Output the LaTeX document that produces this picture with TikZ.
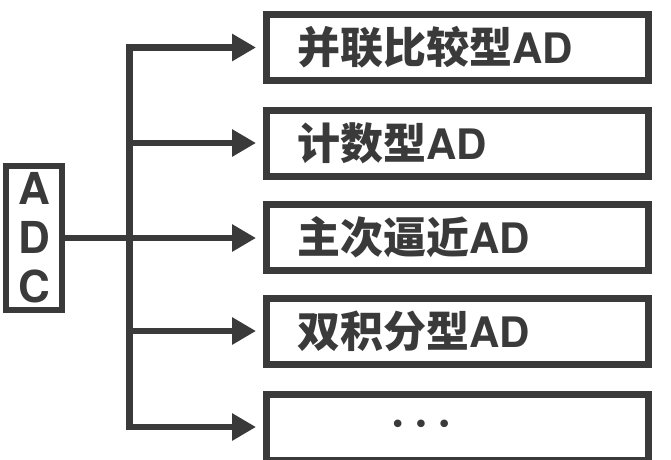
\documentclass[tikz,border=0pt]{standalone}
\usepackage{fontspec}
\usetikzlibrary{arrows.meta}
\newfontfamily\cjk{Noto Sans CJK SC}
\newfontfamily\latb{texgyreheros-bold.otf}
\newfontfamily\dejavu{DejaVu Sans}
\newcommand{\ad}{{\latb\fontsize{42pt}{42pt}\selectfont AD}}
\definecolor{ink}{HTML}{3A3A3A}
\tikzset{
  x=1pt, y=-1pt,
  item/.style={draw=ink, line width=7pt, rectangle, minimum width=382pt, minimum height=66pt,
    inner xsep=30.5pt, inner ysep=0pt, text width=321pt, align=left,
    text height=37.8pt, text depth=5.2pt, text=ink,
    font=\cjk\bfseries\fontsize{43pt}{43pt}\selectfont},
  adcbox/.style={draw=ink, line width=6pt, rectangle, minimum width=56pt, minimum height=144pt,
    inner sep=0pt, align=center, text=ink,
    font=\latb\fontsize{44pt}{49pt}\selectfont},
  conn/.style={draw=ink, line width=6.5pt, line join=miter},
  tip/.style={-{Triangle[length=24pt,width=26pt]}, shorten >=7pt},
}
\begin{document}
\begin{tikzpicture}
\useasboundingbox (0,0) rectangle (671,459);
\clip (0,0) rectangle (671,459);
\fill[white] (0,0) rectangle (671,459);
\node[item] (b1) at (457.5,47.5) {并联比较型\ad};
\node[item] (b2) at (457.5,143) {计数型\ad};
\node[item] (b3) at (457.5,237) {主次逼近\ad};
\node[item] (b4) at (457.5,331) {双积分型\ad};
\node[item] (b5) at (457.5,427) {};
\node[text=ink, inner sep=0pt, font=\dejavu\fontsize{26pt}{26pt}\selectfont] (dots) at (421,427) {•\hspace{8pt}•\hspace{8pt}•};
\node[adcbox] (adc) at (34,238) {A\\D\\C};
\coordinate (trunk) at (129.5,0);
\draw[conn, {Triangle[length=24pt,width=26pt]}-{Triangle[length=24pt,width=26pt]}, shorten <=7pt, shorten >=7pt]
  (b1.west) -- (b1.west -| trunk) -- (b5.west -| trunk) -- (b5.west);
\draw[conn, tip] (b2.west -| trunk) -- (b2.west);
\draw[conn, tip] (b4.west -| trunk) -- (b4.west);
\draw[conn, tip] (adc.east) -- (adc.east -| b3.west);
\end{tikzpicture}
\end{document}
